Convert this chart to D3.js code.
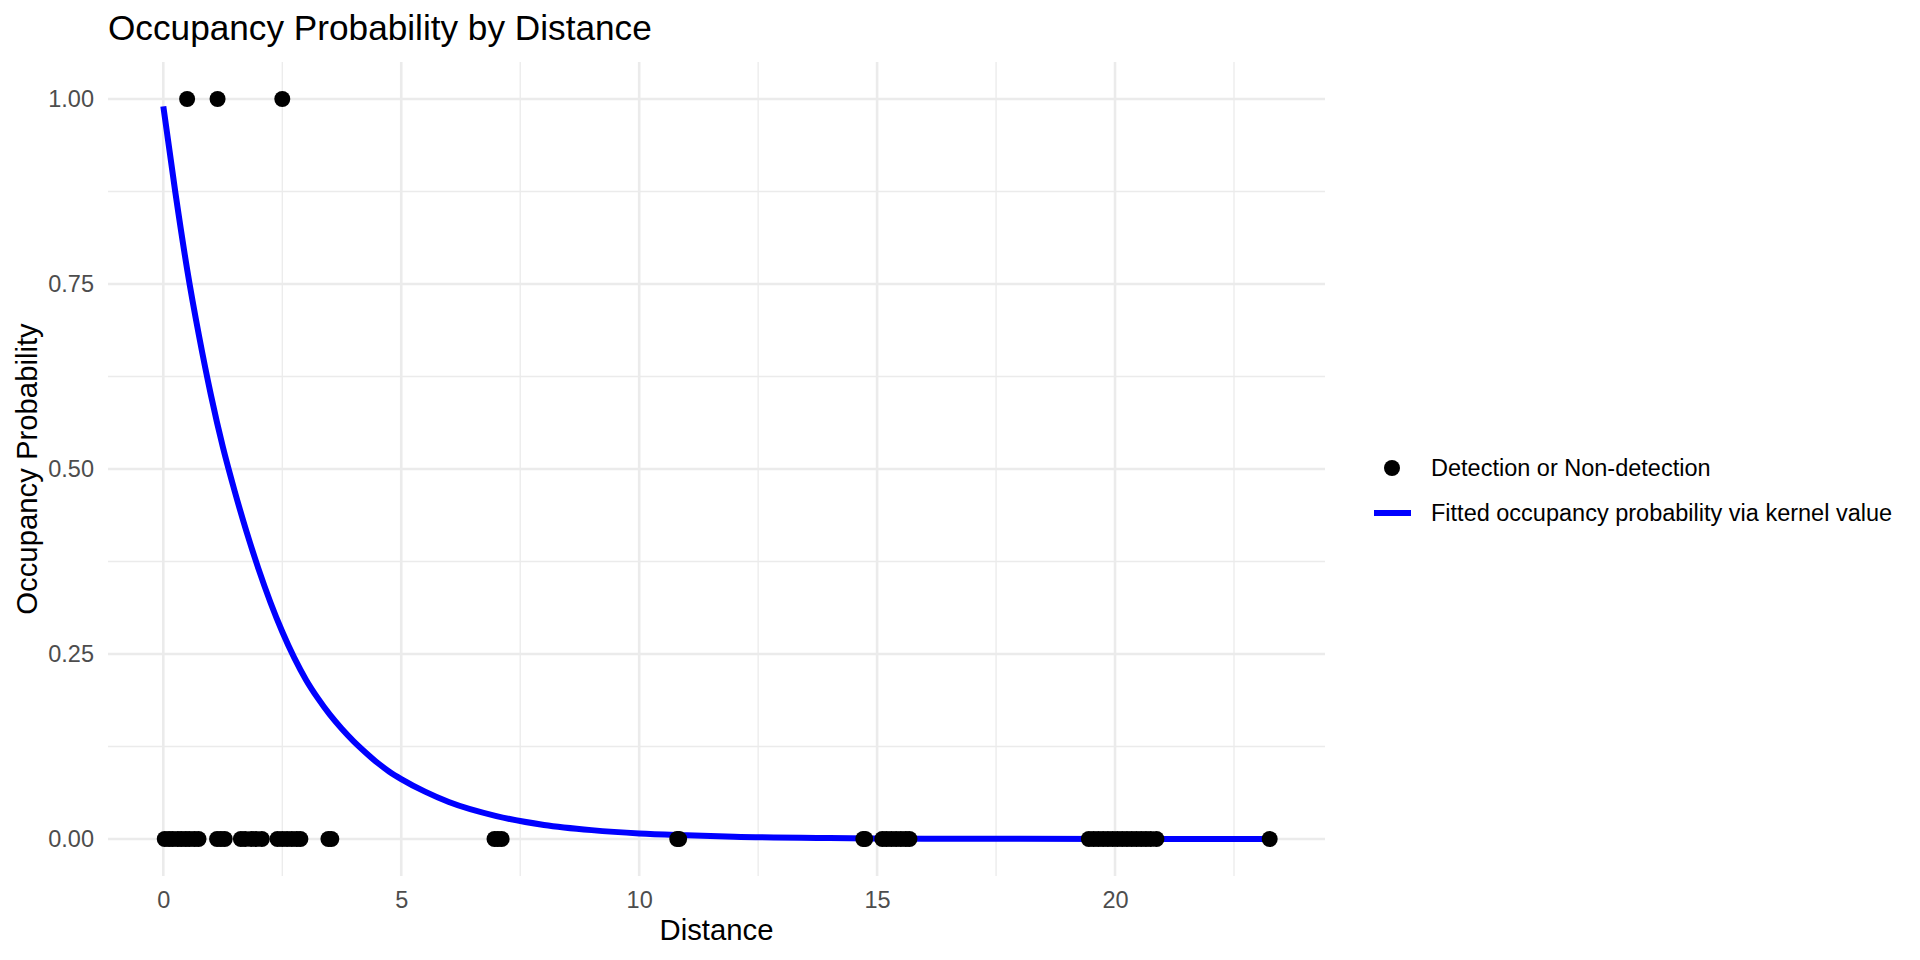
<!DOCTYPE html>
<html>
<head>
<meta charset="utf-8">
<script src="https://cdn.jsdelivr.net/npm/d3@7"></script>
<style>
  html, body { margin: 0; padding: 0; background: #fff; }
  svg { display: block; font-family: "Liberation Sans", Arial, Helvetica, sans-serif; }
</style>
</head>
<body>
<svg id="chart" width="1920" height="960"></svg>
<script>
// ---- Data ----
const title = "Occupancy Probability by Distance";
const xTitle = "Distance";
const yTitle = "Occupancy Probability";
const legendLabels = ["Detection or Non-detection", "Fitted occupancy probability via kernel value"];

// Observations: distance and detection (1) / non-detection (0)
const obsDistance = [
  0.50, 1.14, 2.50,
  0.03, 0.12, 0.20, 0.30, 0.38, 0.47, 0.55, 0.65, 0.74,
  1.13, 1.21, 1.29,
  1.63, 1.72, 1.85, 1.95, 2.07,
  2.40, 2.50, 2.60, 2.70, 2.80, 2.88,
  3.47, 3.53,
  6.96, 7.03, 7.11,
  10.80, 10.84,
  14.71, 14.75,
  15.11, 15.20, 15.30, 15.40, 15.50, 15.60, 15.68,
  19.45, 19.55, 19.65, 19.75, 19.85, 19.95, 20.05, 20.15, 20.25, 20.35, 20.45, 20.55, 20.65, 20.75, 20.87,
  23.25
];
const obsValue = [
  1, 1, 1,
  0, 0, 0, 0, 0, 0, 0, 0, 0,
  0, 0, 0,
  0, 0, 0, 0, 0,
  0, 0, 0, 0, 0, 0,
  0, 0,
  0, 0, 0,
  0, 0,
  0, 0,
  0, 0, 0, 0, 0, 0, 0,
  0, 0, 0, 0, 0, 0, 0, 0, 0, 0, 0, 0, 0, 0, 0,
  0
];

// Fitted curve
const fitDistance = [0, 0.25, 0.5, 0.75, 1, 1.25, 1.5, 1.75, 2, 2.25, 2.5, 2.75, 3, 3.25, 3.5, 3.75, 4, 4.25, 4.5, 4.75, 5, 5.5, 6, 7, 8, 9, 10, 11, 12, 14, 16, 18, 20, 23.25];
const fitProb =     [0.99, 0.875, 0.77, 0.68, 0.60, 0.53, 0.47, 0.415, 0.365, 0.32, 0.28, 0.245, 0.215, 0.190, 0.168, 0.149, 0.132, 0.117, 0.103, 0.091, 0.081, 0.064, 0.05, 0.031, 0.019, 0.012, 0.0075, 0.005, 0.003, 0.0012, 0.0005, 0.0002, 0.0001, 0];

const xTicks = [0, 5, 10, 15, 20];
const xMinor = [2.5, 7.5, 12.5, 17.5, 22.5];
const yTicks = [0, 0.25, 0.5, 0.75, 1];
const yMinor = [0.125, 0.375, 0.625, 0.875];

// ---- Layout ----
const panel = { left: 108, right: 1325, top: 62, bottom: 876 };
const svg = d3.select("#chart");

const allX = obsDistance.concat(fitDistance);
const xmin = d3.min(allX), xmax = d3.max(allX), xr = xmax - xmin;
const x = d3.scaleLinear().domain([xmin - 0.05 * xr, xmax + 0.05 * xr]).range([panel.left, panel.right]);
const y = d3.scaleLinear().domain([-0.05, 1.05]).range([panel.bottom, panel.top]);

const grid = svg.append("g");
grid.selectAll("line.xminor").data(xMinor).join("line")
  .attr("x1", d => x(d)).attr("x2", d => x(d)).attr("y1", panel.top).attr("y2", panel.bottom)
  .attr("stroke", "#EBEBEB").attr("stroke-width", 1.3);
grid.selectAll("line.yminor").data(yMinor).join("line")
  .attr("y1", d => y(d)).attr("y2", d => y(d)).attr("x1", panel.left).attr("x2", panel.right)
  .attr("stroke", "#EBEBEB").attr("stroke-width", 1.3);
grid.selectAll("line.xmajor").data(xTicks).join("line")
  .attr("x1", d => x(d)).attr("x2", d => x(d)).attr("y1", panel.top).attr("y2", panel.bottom)
  .attr("stroke", "#EBEBEB").attr("stroke-width", 2.6);
grid.selectAll("line.ymajor").data(yTicks).join("line")
  .attr("y1", d => y(d)).attr("y2", d => y(d)).attr("x1", panel.left).attr("x2", panel.right)
  .attr("stroke", "#EBEBEB").attr("stroke-width", 2.6);

// Axes
const xAxis = svg.append("g").attr("transform", `translate(0,${panel.bottom})`)
  .call(d3.axisBottom(x).tickValues(xTicks).tickSize(0).tickPadding(15).tickFormat(d3.format("d")));
const yAxis = svg.append("g").attr("transform", `translate(${panel.left},0)`)
  .call(d3.axisLeft(y).tickValues(yTicks).tickSize(0).tickPadding(14).tickFormat(d3.format(".2f")));
[xAxis, yAxis].forEach(a => {
  a.select(".domain").remove();
  a.selectAll("text").attr("fill", "#4D4D4D").style("font-size", "23.5px")
    .style("font-family", '"Liberation Sans", Arial, Helvetica, sans-serif');
});

// Fitted line
const fitData = fitDistance.map((d, i) => [d, fitProb[i]]);
svg.append("path").datum(fitData)
  .attr("fill", "none").attr("stroke", "#0000FF").attr("stroke-width", 6)
  .attr("d", d3.line().x(d => x(d[0])).y(d => y(d[1])).curve(d3.curveMonotoneX));

// Points
const obsData = obsDistance.map((d, i) => [d, obsValue[i]]);
svg.append("g").selectAll("circle").data(obsData).join("circle")
  .attr("cx", d => x(d[0])).attr("cy", d => y(d[1])).attr("r", 8).attr("fill", "#000");

// Titles
svg.append("text").attr("x", 108).attr("y", 40).attr("font-size", 35.2).attr("fill", "#000").text(title);
svg.append("text").attr("x", (panel.left + panel.right) / 2).attr("y", 940)
  .attr("text-anchor", "middle").attr("font-size", 29.3).attr("fill", "#000").text(xTitle);
svg.append("text").attr("transform", `translate(37,${(panel.top + panel.bottom) / 2}) rotate(-90)`)
  .attr("text-anchor", "middle").attr("font-size", 29.3).attr("fill", "#000").text(yTitle);

// Legend
const lg = svg.append("g");
lg.append("circle").attr("cx", 1392).attr("cy", 468).attr("r", 8).attr("fill", "#000");
lg.append("line").attr("x1", 1374).attr("x2", 1411).attr("y1", 513).attr("y2", 513)
  .attr("stroke", "#0000FF").attr("stroke-width", 6);
lg.selectAll("text").data(legendLabels).join("text")
  .attr("x", 1431).attr("y", (d, i) => [468, 513][i]).attr("dy", "0.35em")
  .attr("font-size", 23.5).attr("fill", "#000").text(d => d);
</script>
</body>
</html>
